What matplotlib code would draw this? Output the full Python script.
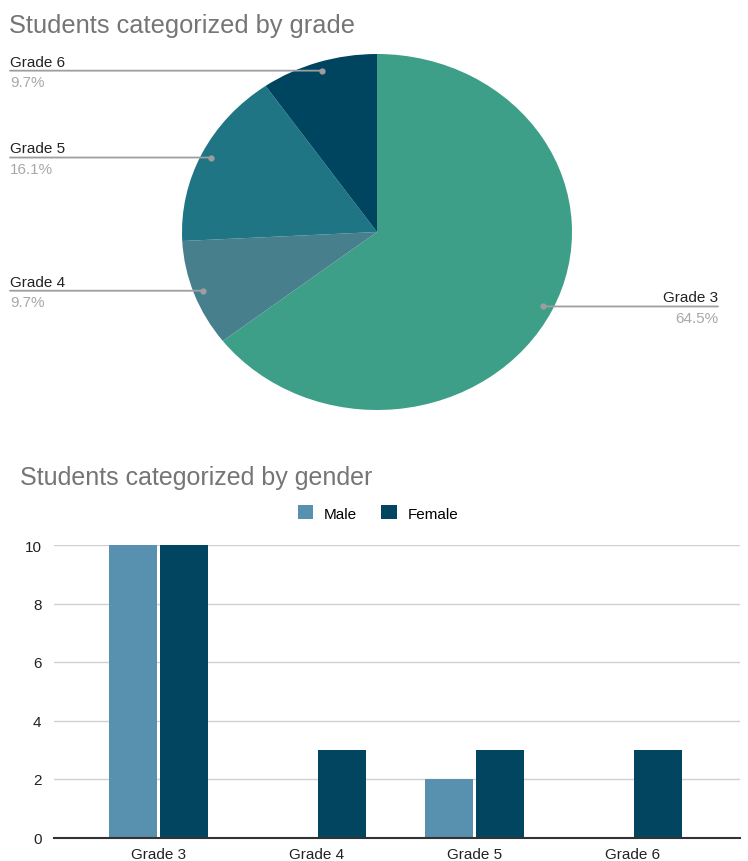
import matplotlib.pyplot as plt
import matplotlib.transforms as mtransforms
import numpy as np

plt.rcParams['font.family'] = ['Liberation Sans', 'DejaVu Sans']

# data
grades = ['Grade 3', 'Grade 4', 'Grade 5', 'Grade 6']
grade_counts = [20, 3, 5, 3]
pie_colors = ['#3d9f87', '#47808c', '#1f7584', '#004560']

male = [10, 0, 2, 0]
female = [10, 3, 3, 3]
male_color = '#5891b0'
female_color = '#024560'

W, H = 748, 862
fig = plt.figure(figsize=(W / 100, H / 100), dpi=100)


def fx(px):
    return px / W


def fy(py):
    return 1 - py / H


# ---- pie ----
fig.text(fx(9), fy(26), 'Students categorized by grade', fontsize=18.3,
         color='#757575', va='center', ha='left')

ax1 = fig.add_axes([fx(182), fy(411), fx(572) - fx(182), (411 - 55) / H])
ax1.pie(grade_counts, colors=pie_colors, startangle=90, counterclock=False,
        wedgeprops=dict(linewidth=0))
ax1.set_aspect('auto')
ax1.set_xlim(-1, 1)
ax1.set_ylim(-1, 1)
ax1.axis('off')

total = sum(grade_counts)
blend = mtransforms.blended_transform_factory(fig.transFigure, ax1.transData)
start = 0
for name, cnt in zip(grades, grade_counts):
    mid = (start + cnt / 2) / total
    start += cnt
    ang = np.deg2rad(90 - mid * 360)
    dx, dy = 0.95 * np.cos(ang), 0.95 * np.sin(ang)
    if dx > 0:
        xe, ha = fx(718), 'right'
    else:
        xe, ha = fx(10), 'left'
    ax1.annotate('', xy=(dx, dy), xycoords='data', xytext=(xe, dy),
                 textcoords=blend,
                 arrowprops=dict(arrowstyle='-', color='#9e9e9e', lw=1.3,
                                 shrinkA=0, shrinkB=0))
    ax1.plot([dx], [dy], 'o', color='#9e9e9e', ms=3.5, clip_on=False)
    ax1.annotate(name, xy=(xe, dy), xycoords=blend, xytext=(0, 1.5),
                 textcoords='offset points', ha=ha, va='bottom',
                 fontsize=11, color='#222222')
    ax1.annotate(f'{cnt / total * 100:.1f}%', xy=(xe, dy), xycoords=blend,
                 xytext=(0, -3), textcoords='offset points', ha=ha, va='top',
                 fontsize=11, color='#a8a8a8')

# ---- bar ----
fig.text(fx(20), fy(478), 'Students categorized by gender', fontsize=18,
         color='#757575', va='center', ha='left')

ax2 = fig.add_axes([fx(54), fy(838.5), fx(740) - fx(54), (838.5 - 546) / H])
x = np.arange(len(grades))
bw = 0.305
ax2.bar(x - 0.16, male, bw, color=male_color, label='Male', zorder=3)
ax2.bar(x + 0.16, female, bw, color=female_color, label='Female', zorder=3)
ax2.set_xlim(-0.661, 3.68)
ax2.set_ylim(0, 10)
ax2.set_yticks([0, 2, 4, 6, 8, 10])
ax2.set_xticks(x)
ax2.set_xticklabels(grades)
ax2.grid(axis='y', color='#d0d0d0', lw=1, zorder=0)
ax2.tick_params(length=0, labelsize=11, labelcolor='#222222')
ax2.tick_params(axis='y', pad=9)
ax2.tick_params(axis='x', pad=7)
for s in ['top', 'right', 'left']:
    ax2.spines[s].set_visible(False)
ax2.spines['bottom'].set_color('#333333')
ax2.spines['bottom'].set_linewidth(1.5)
ax2.spines['bottom'].set_zorder(4)

fig.legend(loc='center', bbox_to_anchor=(fx(378), fy(514)), ncol=2,
           frameon=False, fontsize=11, handlelength=1.0, handleheight=1.0,
           handletextpad=0.7, columnspacing=1.6)

fig.savefig('out.png', dpi=100)
